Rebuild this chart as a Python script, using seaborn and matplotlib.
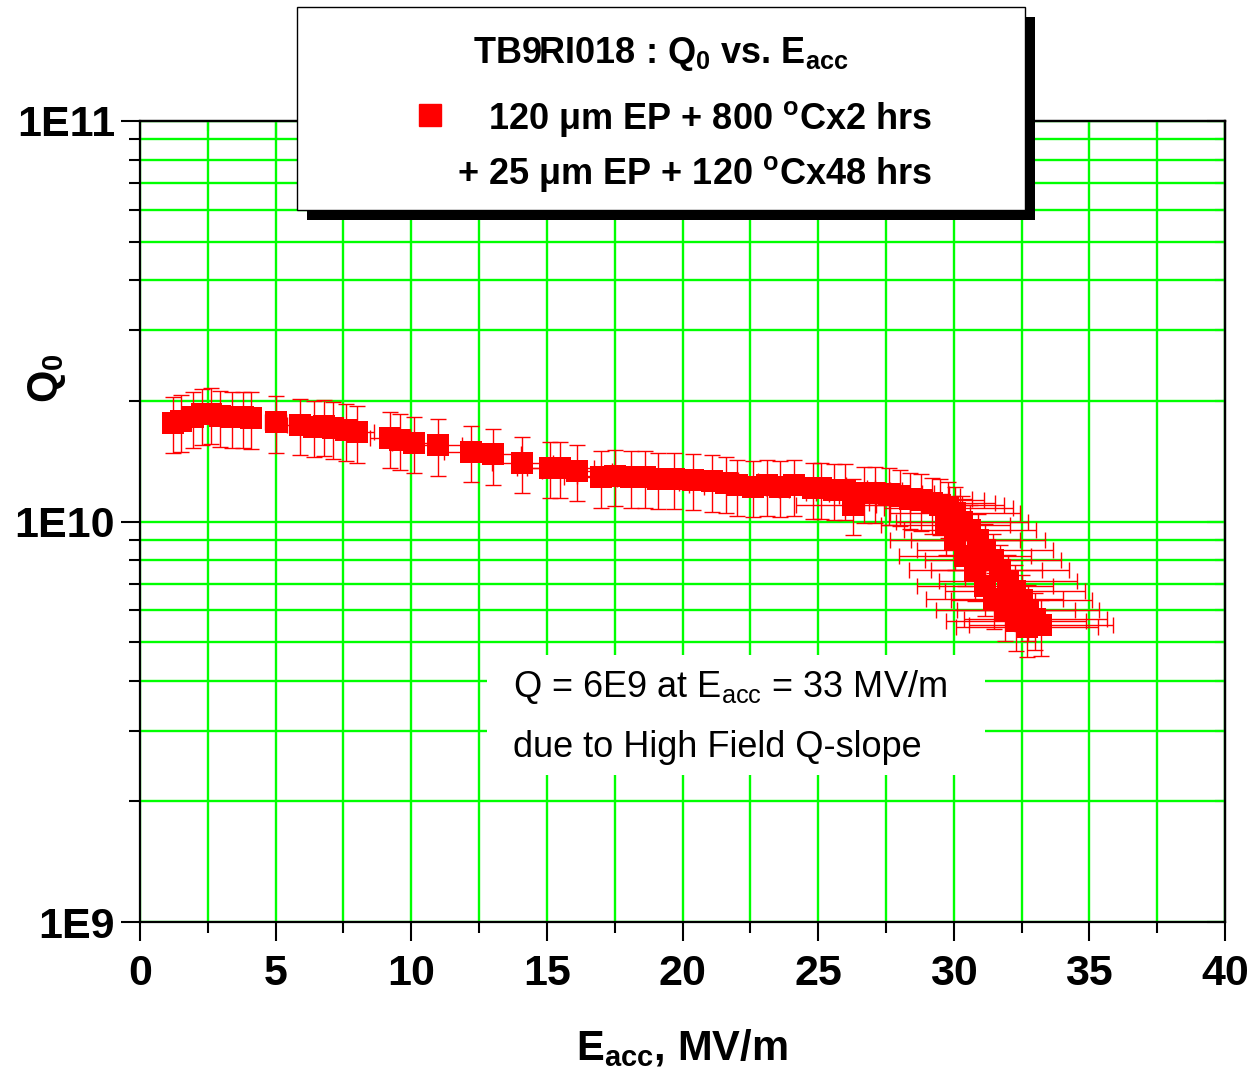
import numpy as np
import pandas as pd
import seaborn as sns
import matplotlib.pyplot as plt
from matplotlib.ticker import MultipleLocator, LogLocator, FuncFormatter, NullFormatter
from matplotlib.patches import Rectangle
from matplotlib.lines import Line2D

# Q0 vs Eacc readings (MV/m, Q0)
e_acc = [1.2, 1.5, 1.95, 2.3, 2.6, 2.95, 3.4, 3.8, 4.1, 5.0, 5.9, 6.4, 6.8, 7.1, 7.6,
         8.0, 9.2, 9.6, 10.1, 11.0, 12.2, 13.0, 14.1, 15.1, 15.5, 16.1, 17.0, 17.5,
         18.1, 18.6, 19.1, 19.7, 20.4, 21.1, 21.6, 22.0, 22.6, 23.1, 23.6, 24.1, 24.8,
         25.1, 25.6, 26.0, 26.3, 26.7, 27.1, 27.6, 28.0, 28.4, 28.8, 29.2, 29.5, 29.8,
         30.05, 30.3, 30.6, 30.9, 31.15, 31.45, 31.7, 32.0, 32.26, 32.5, 32.75, 33.0,
         33.2,
         # second sweep at high field
         29.7, 30.05, 30.4, 30.8, 31.15, 31.5, 31.9, 32.3, 32.7]
q0 = [1.76e10, 1.78e10, 1.82e10, 1.85e10, 1.86e10, 1.83e10, 1.82e10, 1.82e10, 1.81e10,
      1.77e10, 1.74e10, 1.72e10, 1.73e10, 1.71e10, 1.69e10, 1.67e10, 1.62e10, 1.60e10,
      1.57e10, 1.55e10, 1.49e10, 1.47e10, 1.40e10, 1.36e10, 1.36e10, 1.34e10, 1.29e10,
      1.30e10, 1.29e10, 1.29e10, 1.28e10, 1.28e10, 1.27e10, 1.26e10, 1.25e10, 1.23e10,
      1.22e10, 1.23e10, 1.22e10, 1.23e10, 1.21e10, 1.21e10, 1.20e10, 1.20e10, 1.10e10,
      1.18e10, 1.18e10, 1.17e10, 1.16e10, 1.14e10, 1.13e10, 1.11e10, 1.10e10, 1.08e10,
      1.05e10, 1.00e10, 9.5e9, 9.0e9, 8.5e9, 8.0e9, 7.55e9, 7.1e9, 6.7e9, 6.35e9,
      6.0e9, 5.7e9, 5.5e9,
      9.8e9, 9.0e9, 8.2e9, 7.55e9, 6.9e9, 6.4e9, 6.0e9, 5.65e9, 5.45e9]
# measurement uncertainty (relative)
e_rel_err = 0.08
q_rel_err = 0.16

title_text = 'TB9RI018 : Q$_0$ vs. E$_{acc}$'
legend_line1 = '120 μm EP + 800 $^{o}$Cx2 hrs'
legend_line2 = '+ 25 μm EP + 120 $^{o}$Cx48 hrs'
note_line1 = 'Q = 6E9 at E$_{acc}$ = 33 MV/m'
note_line2 = 'due to High Field Q-slope'

df = pd.DataFrame({'E': e_acc, 'Q': q0})

sns.set_theme(style='white')
plt.rcParams['font.family'] = ['Liberation Sans', 'DejaVu Sans']
plt.rcParams['font.weight'] = 'bold'
plt.rcParams['mathtext.default'] = 'regular'
plt.rcParams['text.color'] = 'black'
plt.rcParams['axes.labelcolor'] = 'black'
plt.rcParams['xtick.color'] = 'black'
plt.rcParams['ytick.color'] = 'black'

W, H = 1252, 1079
fig = plt.figure(figsize=(W / 100, H / 100), dpi=100)
ax = fig.add_axes([140 / W, 157 / H, 1085 / W, 801 / H])

ax.errorbar(df['E'], df['Q'], xerr=df['E'] * e_rel_err, yerr=df['Q'] * q_rel_err,
            fmt='none', ecolor='red', elinewidth=1, capsize=5.5, capthick=1, zorder=3)
sns.scatterplot(data=df, x='E', y='Q', marker='s', s=250, color='red', linewidth=0,
                ax=ax, zorder=4, legend=False)

ax.set_yscale('log')
ax.set_xlim(0, 40)
ax.set_ylim(1e9, 1e11)
ax.set_xlabel('')
ax.set_ylabel('')
ax.xaxis.set_major_locator(MultipleLocator(5))
ax.xaxis.set_minor_locator(MultipleLocator(2.5))
ax.yaxis.set_major_locator(LogLocator(base=10))
ax.yaxis.set_minor_locator(LogLocator(base=10, subs=range(2, 10)))
ax.yaxis.set_major_formatter(FuncFormatter(lambda v, p: f'1E{int(round(np.log10(v)))}'))
ax.yaxis.set_minor_formatter(NullFormatter())

ax.grid(which='both', color='#00ff00', lw=1.7)
ax.set_axisbelow(True)
for s in ax.spines.values():
    s.set_linewidth(1.6)
    s.set_color('black')

ax.tick_params(which='both', bottom=True, left=True, top=False, right=False)
ax.tick_params(which='major', direction='out', length=14, width=1.5, labelsize=31,
               colors='black')
ax.tick_params(axis='x', which='major', pad=9)
ax.tick_params(axis='y', which='major', pad=4)
ax.tick_params(which='minor', direction='out', length=8, width=1.5, colors='black')

# inward ticks on top and right
top = ax.secondary_xaxis('top')
top.xaxis.set_major_locator(MultipleLocator(5))
top.xaxis.set_minor_locator(MultipleLocator(2.5))
top.tick_params(which='both', top=True, labeltop=False, colors='black')
top.tick_params(which='major', direction='in', length=13, width=1.5)
top.tick_params(which='minor', direction='in', length=7, width=1.5)
right = ax.secondary_yaxis('right')
right.yaxis.set_major_locator(LogLocator(base=10))
right.yaxis.set_minor_locator(LogLocator(base=10, subs=range(2, 10)))
right.yaxis.set_minor_formatter(NullFormatter())
right.tick_params(which='both', right=True, labelright=False, colors='black')
right.tick_params(which='major', direction='in', length=13, width=1.5)
right.tick_params(which='minor', direction='in', length=7, width=1.5)
for sec in (top, right):
    for s in sec.spines.values():
        s.set_linewidth(1.6)
        s.set_color('black')

# axis titles
fig.text(47 / W, 1 - 378 / H, 'Q$_0$', rotation=90, ha='center', va='center',
         fontsize=30, fontweight='bold')
fig.text(682 / W, 1 - 1060 / H, 'E$_{acc}$, MV/m', ha='center', va='baseline',
         fontsize=30, fontweight='bold')

# legend box with shadow
fig.add_artist(Rectangle((307 / W, 1 - 220 / H), 728 / W, 203 / H, transform=fig.transFigure,
                         facecolor='black', edgecolor='none', zorder=5))
fig.add_artist(Rectangle((297 / W, 1 - 210 / H), 728 / W, 203 / H, transform=fig.transFigure,
                         facecolor='white', edgecolor='black', lw=1, zorder=6))
fig.text(661 / W, 1 - 63 / H, title_text, ha='center', va='baseline', fontsize=26,
         fontweight='bold', zorder=7)
fig.add_artist(Line2D([430 / W], [1 - 115 / H], marker='s', ms=16, color='red', lw=0,
                      transform=fig.transFigure, zorder=7))
fig.text(932 / W, 1 - 129 / H, legend_line1, ha='right', va='baseline', fontsize=26,
         fontweight='bold', zorder=7)
fig.text(932 / W, 1 - 184 / H, legend_line2, ha='right', va='baseline', fontsize=26,
         fontweight='bold', zorder=7)

# annotation
fig.add_artist(Rectangle((487 / W, 1 - 775 / H), 498 / W, 120 / H, transform=fig.transFigure,
                         facecolor='white', edgecolor='none', zorder=5))
fig.text(513 / W, 1 - 697 / H, note_line1, ha='left', va='baseline', fontsize=26,
         fontweight='normal', zorder=7)
fig.text(513 / W, 1 - 757 / H, note_line2, ha='left', va='baseline', fontsize=26,
         fontweight='normal', zorder=7)

fig.savefig('out.png', dpi=100)
